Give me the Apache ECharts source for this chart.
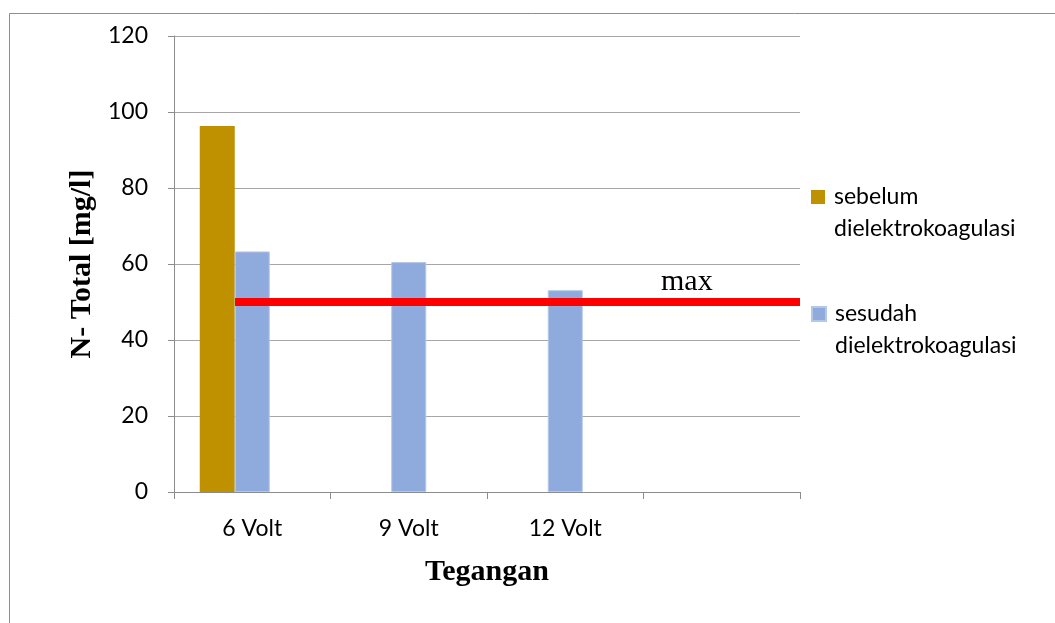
<!DOCTYPE html>
<html>
<head>
<meta charset="utf-8">
<script src="https://cdn.jsdelivr.net/npm/echarts@6/dist/echarts.min.js"></script>
<style>
  html, body { margin: 0; padding: 0; background: #ffffff; }
  #chart { width: 1055px; height: 623px; }
</style>
</head>
<body>
<div id="chart"></div>
<script>
// Categories along the voltage axis (the last slot is left empty)
const categories = ['6 Volt', '9 Volt', '12 Volt', ''];

// N-Total before and after electrocoagulation [mg/l]
const sebelum = [96.3, null, null, null];
const sesudah = [63.3, 60.5, 53.1, null];

// Maximum allowed level, drawn as a horizontal line (x in category units)
const maxLevel = 50;
const maxLine = [[0.39, maxLevel], [4, maxLevel]];

// Value axis ticks
const yTicks = { min: 0, max: 120, interval: 20 };

const sansFont = 'Lato';
const serifFont = '"Liberation Serif", "Times New Roman", serif';

const chart = echarts.init(document.getElementById('chart'), null, { renderer: 'canvas' });

const legendText = {
  fontFamily: sansFont,
  fontSize: 23,
  color: '#000000',
  lineHeight: 32,
  padding: [0, 0, 0, 4]
};

// Legend names wrap after the first word; a leading empty line keeps the
// first word level with the colour square.
const wrapName = name => '\n' + name.replace(' ', '\n');

chart.setOption({
  animation: false,
  backgroundColor: '#ffffff',
  graphic: [
    {
      type: 'rect',
      shape: { x: 9.5, y: 13.5, width: 1100, height: 700 },
      style: { fill: 'none', stroke: '#8f8f8f', lineWidth: 1 },
      silent: true
    },
    {
      type: 'text',
      left: 661,
      top: 267,
      style: {
        text: 'max',
        font: '30px ' + serifFont,
        fill: '#000000'
      },
      silent: true
    }
  ],
  grid: { left: 174, right: 255, top: 36, bottom: 131, containLabel: false },
  legend: [
    {
      data: ['sebelum dielektrokoagulasi'],
      left: 811,
      top: 149,
      padding: 0,
      orient: 'vertical',
      itemWidth: 14,
      itemHeight: 14,
      icon: 'rect',
      formatter: wrapName,
      textStyle: legendText
    },
    {
      data: ['sesudah dielektrokoagulasi'],
      left: 811,
      top: 266,
      padding: 0,
      orient: 'vertical',
      itemWidth: 14,
      itemHeight: 14,
      icon: 'rect',
      formatter: wrapName,
      textStyle: legendText
    }
  ],
  xAxis: [
    {
      type: 'category',
      data: categories,
      boundaryGap: true,
      name: 'Tegangan',
      nameLocation: 'middle',
      nameGap: 65,
      nameTextStyle: { fontFamily: serifFont, fontSize: 30, fontWeight: 'bold', color: '#000000' },
      axisLine: { lineStyle: { color: '#8c8c8c', width: 1 } },
      axisTick: { show: true, length: 7, lineStyle: { color: '#8c8c8c' } },
      axisLabel: { fontFamily: sansFont, fontSize: 23, color: '#000000', margin: 25 },
      splitLine: { show: false }
    },
    {
      type: 'value',
      min: 0,
      max: 4,
      show: false
    }
  ],
  yAxis: {
    type: 'value',
    min: yTicks.min,
    max: yTicks.max,
    interval: yTicks.interval,
    name: 'N- Total [mg/l]',
    nameLocation: 'middle',
    nameRotate: 90,
    nameGap: 65,
    nameTextStyle: { fontFamily: serifFont, fontSize: 30, fontWeight: 'bold', color: '#000000' },
    axisLine: { show: true, lineStyle: { color: '#8c8c8c', width: 1 } },
    axisTick: { show: true, length: 6, lineStyle: { color: '#8c8c8c' } },
    axisLabel: { fontFamily: sansFont, fontSize: 23, color: '#000000', margin: 26 },
    splitLine: { show: true, lineStyle: { color: '#a6a6a6', width: 1 } }
  },
  series: [
    {
      name: 'sebelum dielektrokoagulasi',
      type: 'bar',
      data: sebelum,
      barWidth: 35,
      barGap: '0%',
      itemStyle: { color: '#BF9000' }
    },
    {
      name: 'sesudah dielektrokoagulasi',
      type: 'bar',
      data: sesudah,
      barWidth: 35,
      barGap: '0%',
      itemStyle: { color: '#8FAADC', borderColor: '#b4c7e7', borderWidth: 1 }
    },
    {
      // empty third slot in each category keeps the bar pair left of centre
      name: 'max',
      type: 'bar',
      data: [null, null, null, null],
      barWidth: 35,
      barGap: '0%'
    },
    {
      name: 'max',
      type: 'line',
      xAxisIndex: 1,
      data: maxLine,
      symbol: 'none',
      lineStyle: { color: '#FF0000', width: 8 },
      z: 5
    }
  ]
});
</script>
</body>
</html>
